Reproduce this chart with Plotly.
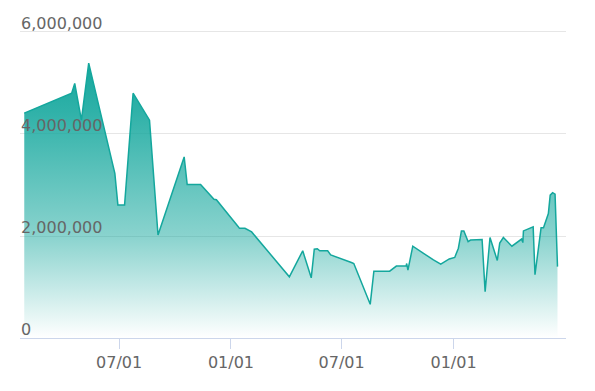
import plotly.graph_objects as go

dates = [
    "2019-01-26", "2019-04-14", "2019-04-19", "2019-04-30", "2019-05-12", "2019-06-24",
    "2019-06-29", "2019-07-10", "2019-07-24", "2019-08-20", "2019-09-03", "2019-10-16",
    "2019-10-21", "2019-11-12", "2019-12-04", "2019-12-08", "2020-01-13", "2020-01-15",
    "2020-01-24", "2020-02-04", "2020-04-06", "2020-04-28", "2020-05-12", "2020-05-17",
    "2020-05-22", "2020-05-26", "2020-06-08", "2020-06-13", "2020-07-17", "2020-07-21",
    "2020-08-17", "2020-08-23", "2020-09-18", "2020-09-29", "2020-10-15", "2020-10-16",
    "2020-10-18", "2020-10-26", "2020-11-29", "2020-12-11", "2020-12-25", "2021-01-03",
    "2021-01-09", "2021-01-14", "2021-01-18", "2021-01-25", "2021-01-29", "2021-02-17",
    "2021-02-22", "2021-03-02", "2021-03-14", "2021-03-18", "2021-03-24", "2021-04-07",
    "2021-04-23", "2021-04-25", "2021-04-26", "2021-05-12", "2021-05-15", "2021-05-25",
    "2021-05-29", "2021-06-06", "2021-06-09", "2021-06-13", "2021-06-17", "2021-06-21",
]
values = [
    4410000, 4800000, 4990000, 4270000, 5390000, 3230000,
    2610000, 2610000, 4800000, 4270000, 2020000, 3550000,
    3010000, 3010000, 2720000, 2710000, 2180000, 2150000,
    2150000, 2080000, 1200000, 1710000, 1180000, 1740000,
    1750000, 1710000, 1710000, 1630000, 1480000, 1460000,
    660000, 1310000, 1310000, 1410000, 1410000, 1460000,
    1330000, 1800000, 1530000, 1450000, 1550000, 1580000,
    1760000, 2100000, 2100000, 1890000, 1920000, 1930000,
    910000, 1970000, 1520000, 1860000, 1970000, 1800000,
    1940000, 1870000, 2100000, 2180000, 1240000, 2160000,
    2160000, 2440000, 2800000, 2850000, 2820000, 1400000,
]

x_tick_vals = ["2019-07-01", "2020-01-01", "2020-07-01", "2021-01-01"]
x_tick_text = ["07/01", "01/01", "07/01", "01/01"]
y_tick_vals = [0, 2000000, 4000000, 6000000]
y_tick_text = ["0", "2,000,000", "4,000,000", "6,000,000"]

line_color = "#14a79d"

fig = go.Figure()
fig.add_trace(go.Scatter(
    x=dates, y=values, mode="lines",
    line=dict(color=line_color, width=1.5),
    fill="tozeroy",
    fillgradient=dict(
        type="vertical",
        colorscale=[
            [0, "rgba(20,167,157,0)"],
            [0.37, "rgba(20,167,157,0.5)"],
            [0.82, "rgba(20,167,157,0.88)"],
            [1, "rgba(20,167,157,1)"],
        ],
        start=0, stop=max(values),
    ),
    hoverinfo="skip",
))

for v, t in zip(y_tick_vals, y_tick_text):
    fig.add_annotation(
        x=0, xref="paper", xanchor="left",
        y=v, yref="y", yanchor="bottom", yshift=-2,
        text=t, showarrow=False, borderpad=0,
        font=dict(family="DejaVu Sans", size=16, color="#666666"),
    )

fig.update_layout(
    width=595, height=391,
    margin=dict(l=20, r=29, t=12, b=53),
    paper_bgcolor="white", plot_bgcolor="white",
    showlegend=False,
    font=dict(family="DejaVu Sans", color="#666666"),
    xaxis=dict(
        type="date",
        range=["2019-01-19", "2021-07-05"],
        tickvals=x_tick_vals, ticktext=x_tick_text,
        showgrid=False, zeroline=False,
        showline=True, linecolor="#ccd6eb", linewidth=1,
        ticks="outside", ticklen=10, tickcolor="#ccd6eb", tickwidth=1,
        tickfont=dict(size=16, color="#666666"),
    ),
    yaxis=dict(
        range=[0, 6392000],
        tickvals=y_tick_vals,
        showticklabels=False,
        showgrid=True, gridcolor="#e6e6e6", gridwidth=1,
        zeroline=False, showline=False,
        ticks="",
    ),
)

fig.write_html("out.html")
